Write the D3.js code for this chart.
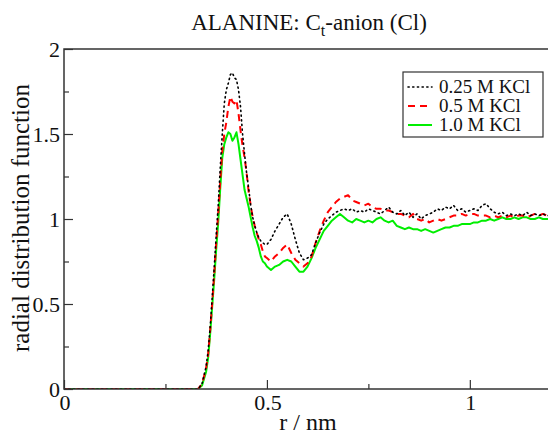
<!DOCTYPE html>
<html><head><meta charset="utf-8">
<script src="https://cdn.jsdelivr.net/npm/d3@7"></script>
<style>body{margin:0;background:#fff;overflow:hidden}svg{display:block}</style>
</head><body>
<script>
const rValues = [0,0.33,0.34,0.35,0.355,0.36,0.365,0.37,0.375,0.38,0.385,0.39,0.395,0.40,0.405,0.41,0.415,0.42,0.425,0.43,0.435,0.44,0.445,0.45,0.455,0.46,0.465,0.47,0.475,0.48,0.485,0.49,0.495,0.50,
0.51,0.52,0.53,0.54,0.55,0.56,0.57,0.58,0.59,0.60,0.61,0.62,0.63,0.64,0.65,0.66,0.67,0.68,0.69,0.70,
0.71,0.72,0.73,0.74,0.75,0.76,0.77,0.78,0.79,0.80,0.81,0.82,0.83,0.84,0.85,0.86,0.87,0.88,0.89,0.90,
0.91,0.92,0.93,0.94,0.95,0.96,0.97,0.98,0.99,1.00,1.01,1.02,1.03,1.04,1.05,1.06,1.07,1.08,1.09,1.10,
1.11,1.12,1.13,1.14,1.15,1.16,1.17,1.18,1.19,1.20];

const g025 = [0,0,0.03,0.13,0.22,0.36,0.53,0.71,0.90,1.08,1.30,1.50,1.68,1.76,1.80,1.85,1.86,1.83,1.82,1.76,1.66,1.50,1.38,1.27,1.18,1.08,1.01,0.96,0.92,0.89,0.87,0.86,0.85,0.85,
0.88,0.93,0.97,1.01,1.03,0.97,0.88,0.80,0.76,0.77,0.79,0.86,0.92,0.97,1.00,1.02,1.04,1.05,1.06,1.05,
1.06,1.04,1.05,1.04,1.06,1.05,1.04,1.03,1.05,1.07,1.04,1.03,1.05,1.02,1.04,1.01,1.03,1.00,1.02,1.03,
1.04,1.06,1.05,1.07,1.06,1.08,1.05,1.06,1.04,1.05,1.06,1.05,1.08,1.09,1.06,1.04,1.03,1.04,1.02,1.03,
1.02,1.03,1.02,1.04,1.02,1.03,1.02,1.03,1.02,1.02];

const g05 = [0,0,0.03,0.12,0.20,0.34,0.50,0.67,0.86,1.03,1.22,1.40,1.50,1.57,1.66,1.72,1.69,1.68,1.70,1.62,1.52,1.43,1.36,1.27,1.16,1.08,1.01,0.96,0.92,0.88,0.85,0.81,0.78,0.77,
0.75,0.78,0.80,0.83,0.85,0.80,0.76,0.74,0.72,0.74,0.78,0.86,0.93,0.99,1.04,1.07,1.10,1.12,1.13,1.14,
1.11,1.10,1.09,1.08,1.09,1.07,1.06,1.06,1.05,1.05,1.04,1.03,1.03,1.02,1.01,1.03,1.00,0.99,1.00,0.98,
0.99,1.00,0.99,1.00,1.01,1.02,1.02,1.03,1.02,1.03,1.03,1.02,1.02,1.02,1.01,1.02,1.01,1.02,1.01,1.02,
1.01,1.02,1.02,1.01,1.02,1.03,1.02,1.03,1.02,1.02];

const g10 = [0,0,0.02,0.10,0.18,0.32,0.48,0.64,0.82,0.98,1.18,1.36,1.44,1.48,1.51,1.50,1.46,1.48,1.51,1.44,1.35,1.26,1.17,1.12,1.07,1.01,0.95,0.90,0.87,0.83,0.78,0.75,0.74,0.72,
0.70,0.72,0.73,0.75,0.76,0.75,0.72,0.69,0.69,0.72,0.77,0.83,0.88,0.93,0.96,0.99,1.01,1.03,1.01,0.99,
0.98,1.00,0.99,0.98,0.99,0.98,1.00,1.01,0.99,0.98,0.99,0.96,0.95,0.94,0.95,0.94,0.94,0.93,0.94,0.93,
0.92,0.93,0.94,0.95,0.95,0.96,0.96,0.97,0.97,0.97,0.98,0.98,0.99,0.99,1.00,0.99,1.00,1.01,1.00,1.00,
1.01,1.00,1.01,1.01,1.00,1.00,1.01,1.00,1.00,1.00];

const seriesNames = ["0.25 M KCl","0.5 M KCl","1.0 M KCl"];
const xTicks = [0,0.5,1];
const yTicks = [0,0.5,1,1.5,2];

const W = 548, H = 435;
const FONT = '"Liberation Serif"';
const m = {left:64, top:49, right:551, bottom:389};
const svg = d3.select("body").append("svg").attr("width",W).attr("height",H);
const x = d3.scaleLinear().domain([0,1.2]).range([m.left,m.right]);
const y = d3.scaleLinear().domain([0,2]).range([m.bottom,m.top]);
function txt(sel,size){ return sel.style("font-family",FONT).style("font-size",size+"px").style("fill","#111"); }

svg.append("clipPath").attr("id","c").append("rect")
  .attr("x",m.left).attr("y",m.top).attr("width",m.right-m.left).attr("height",m.bottom-m.top);

const styles = [
  {color:"#000", width:1.6, dash:"1.2,3.5", cap:"round"},
  {color:"#ff0000", width:2, dash:"7,5", cap:"butt"},
  {color:"#00ee00", width:2, dash:null, cap:"butt"}
];
const allSeries = [g025, g05, g10];
const line = d3.line().x((d,i)=>x(rValues[i])).y(d=>y(d));
const gl = svg.append("g").attr("clip-path","url(#c)");
[2,1,0].forEach(k=>{
  const p = gl.append("path").datum(allSeries[k]).attr("d",line)
    .attr("fill","none").attr("stroke",styles[k].color).attr("stroke-width",styles[k].width)
    .attr("stroke-linecap",styles[k].cap).attr("stroke-linejoin","round");
  if(styles[k].dash) p.attr("stroke-dasharray",styles[k].dash);
});

svg.append("rect").attr("x",m.left).attr("y",m.top).attr("width",m.right-m.left).attr("height",m.bottom-m.top)
  .attr("fill","none").attr("stroke","#333").attr("stroke-width",1.5);

const xAxis = d3.axisTop(x).tickValues(xTicks).tickSize(9).tickFormat("");
const xa = svg.append("g").attr("transform",`translate(0,${m.bottom})`).call(xAxis);
xa.select(".domain").remove();
xa.selectAll("line").attr("stroke","#333").attr("stroke-width",1.2);
const xMinor = d3.axisTop(x).tickValues([0.25,0.75]).tickSize(5).tickFormat("");
const xm = svg.append("g").attr("transform",`translate(0,${m.bottom})`).call(xMinor);
xm.select(".domain").remove();
xm.selectAll("line").attr("stroke","#333").attr("stroke-width",1.2);
txt(svg.append("g").selectAll("text").data(xTicks).join("text")
  .attr("x",d=>x(d)+1).attr("y",410).attr("text-anchor","middle"),22).text(d3.format("~g"));

const yAxis = d3.axisRight(y).tickValues(yTicks).tickSize(9).tickFormat("");
const ya = svg.append("g").attr("transform",`translate(${m.left},0)`).call(yAxis);
ya.select(".domain").remove();
ya.selectAll("line").attr("stroke","#333").attr("stroke-width",1.2);
const yMinor = d3.axisRight(y).tickValues([0.25,0.75,1.25,1.75]).tickSize(5).tickFormat("");
const ym = svg.append("g").attr("transform",`translate(${m.left},0)`).call(yMinor);
ym.select(".domain").remove();
ym.selectAll("line").attr("stroke","#333").attr("stroke-width",1.2);
txt(svg.append("g").selectAll("text").data(yTicks).join("text")
  .attr("x",60).attr("y",d=>y(d)+7.5).attr("text-anchor","end"),22).text(d3.format("~g"));

txt(svg.append("text").attr("x",308).attr("y",430).attr("text-anchor","middle"),24).text("r / nm");
txt(svg.append("text").attr("transform","translate(29,218) rotate(-90)").attr("text-anchor","middle"),25)
  .text("radial distribution function");

const t = txt(svg.append("text").attr("x",309).attr("y",30).attr("text-anchor","middle"),23);
t.append("tspan").text("ALANINE: C");
t.append("tspan").style("font-size","16px").attr("dy",6).text("t");
t.append("tspan").attr("dy",-6).text("-anion (Cl)");

const lg = svg.append("g");
lg.append("rect").attr("x",403).attr("y",72).attr("width",140).attr("height",65)
  .attr("fill","#fff").attr("stroke","#333").attr("stroke-width",1.2);
seriesNames.forEach((n,k)=>{
  const cy = 87 + k*19;
  const l = lg.append("line").attr("x1",408).attr("x2",432).attr("y1",cy).attr("y2",cy)
    .attr("stroke",styles[k].color).attr("stroke-width",styles[k].width).attr("stroke-linecap",styles[k].cap);
  if(styles[k].dash) l.attr("stroke-dasharray",styles[k].dash);
  txt(lg.append("text").attr("x",439).attr("y",cy+6),19).text(n);
});
</script>
</body></html>
